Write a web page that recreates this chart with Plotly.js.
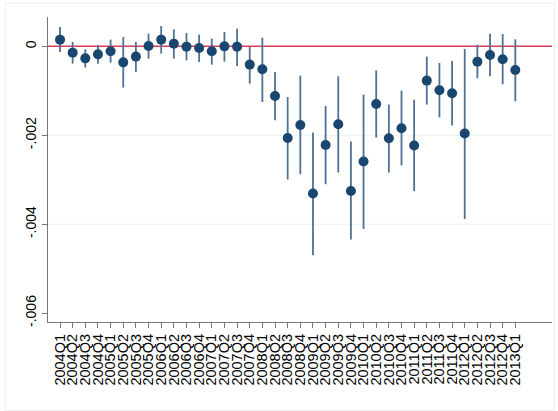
<!DOCTYPE html>
<html>
<head>
<meta charset="utf-8">
<script src="https://cdn.plot.ly/plotly-3.0.1.min.js"></script>
<style>
html,body{margin:0;padding:0;background:#fff;}
#chart{width:558px;height:411px;}
</style>
</head>
<body>
<div id="chart"></div>
<script>
var quarters = ["2004Q1","2004Q2","2004Q3","2004Q4","2005Q1","2005Q2","2005Q3","2005Q4",
"2006Q1","2006Q2","2006Q3","2006Q4","2007Q1","2007Q2","2007Q3","2007Q4",
"2008Q1","2008Q2","2008Q3","2008Q4","2009Q1","2009Q2","2009Q3","2009Q4",
"2010Q1","2010Q2","2010Q3","2010Q4","2011Q1","2011Q2","2011Q3","2011Q4",
"2012Q1","2012Q2","2012Q3","2012Q4","2013Q1"];

var coef = [0.000151,-0.000142,-0.000270,-0.000180,-0.000112,-0.000360,-0.000231,0.000007,
0.000151,0.000061,-0.000007,-0.000038,-0.000112,0.000000,-0.000007,-0.000411,
-0.000517,-0.001117,-0.002060,-0.001768,-0.003310,-0.002218,-0.001753,-0.003252,
-0.002591,-0.001297,-0.002067,-0.001843,-0.002231,-0.000771,-0.000989,-0.001056,
-0.001962,-0.000344,-0.000196,-0.000292,-0.000533];

var ciUpper = [0.000434,0.000097,-0.000067,0.000022,0.000151,0.000209,0.000097,0.000285,
0.000456,0.000382,0.000299,0.000263,0.000173,0.000321,0.000398,-0.000016,
0.000195,-0.000577,-0.001139,-0.000658,-0.001939,-0.001341,-0.000674,-0.002142,
-0.001085,-0.000539,-0.001310,-0.000996,-0.001198,-0.000231,-0.000375,-0.000330,
-0.000061,0.000038,0.000285,0.000276,0.000157];

var ciLower = [-0.000128,-0.000389,-0.000479,-0.000389,-0.000366,-0.000928,-0.000577,-0.000276,
-0.000164,-0.000276,-0.000315,-0.000353,-0.000411,-0.000344,-0.000443,-0.000838,
-0.001252,-0.001663,-0.002995,-0.002876,-0.004696,-0.003101,-0.002838,-0.004344,
-0.004106,-0.002052,-0.002838,-0.002681,-0.003258,-0.001310,-0.001596,-0.001782,
-0.003881,-0.000719,-0.000674,-0.000854,-0.001236];

var yTickVals = [0, -0.002, -0.004, -0.006];
var yTickText = ["0", "-.002", "-.004", "-.006"];
var gridVals = [-0.002, -0.004];
var refLine = 0;

var errPlus = coef.map(function(c,i){return ciUpper[i]-c;});
var errMinus = coef.map(function(c,i){return c-ciLower[i];});

var shapes = gridVals.map(function(g){
  return {type:'line', xref:'paper', yref:'y', x0:0, x1:1, y0:g, y1:g,
          line:{color:'#eaf2f3', width:1}, layer:'below'};
});
shapes.push({type:'line', xref:'paper', yref:'y', x0:0, x1:1, y0:refLine, y1:refLine,
             line:{color:'#dc3c5a', width:1.5}, layer:'below'});
shapes.push({type:'rect', xref:'paper', yref:'paper', x0:-0.085, x1:1.005, y0:-0.29, y1:1.045,
             line:{color:'#eeeeee', width:1}, layer:'below'});

var trace = {
  type:'scatter', mode:'markers',
  x: quarters, y: coef,
  marker:{color:'#1a476f', size:10, line:{width:0}},
  error_y:{type:'data', symmetric:false, array:errPlus, arrayminus:errMinus,
           color:'#4f7194', thickness:1.8, width:0},
  cliponaxis:false,
  hoverinfo:'x+y'
};

var sans = '"Liberation Sans", Arial, sans-serif';

var layout = {
  width:558, height:411,
  margin:{l:48, r:6, t:17, b:89},
  paper_bgcolor:'#ffffff', plot_bgcolor:'#ffffff',
  showlegend:false,
  font:{family:sans, color:'#000'},
  xaxis:{
    type:'category',
    range:[-0.95, 38.9],
    tickmode:'array', tickvals:quarters, ticktext:quarters,
    showgrid:false, zeroline:false,
    showline:true, linecolor:'#777777', linewidth:1.2,
    ticks:'outside', ticklen:5, tickcolor:'#777777', tickwidth:1,
    tickangle:-90,
    tickfont:{size:14.5, family:sans, color:'#000'},
    automargin:false
  },
  yaxis:{
    range:[-0.0062, 0.00066],
    tickvals:yTickVals, ticktext:yTickText,
    showgrid:false, zeroline:false,
    showline:true, linecolor:'#777777', linewidth:1.2,
    ticks:'outside', ticklen:5, tickcolor:'#777777', tickwidth:1,
    tickangle:-90,
    tickfont:{size:14, family:sans, color:'#000'},
    automargin:false
  },
  shapes:shapes
};

Plotly.newPlot('chart', [trace], layout, {displayModeBar:false, staticPlot:true});
</script>
</body>
</html>
